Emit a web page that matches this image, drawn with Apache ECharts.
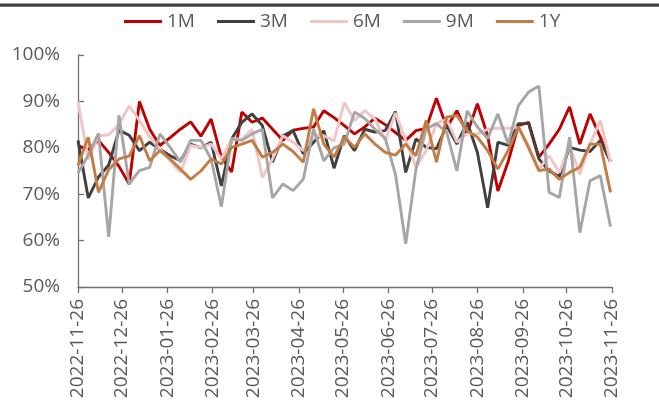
<!DOCTYPE html>
<html><head><meta charset="utf-8">
<script src="https://cdn.jsdelivr.net/npm/echarts@6/dist/echarts.min.js"></script>
<style>html,body{margin:0;padding:0;background:#fff}#c{width:659px;height:403px}</style>
</head><body><div id="c"></div>
<script>
const seriesNames = ['1M', '3M', '6M', '9M', '1Y'];
const seriesColors = ['#C00000', '#404040', '#F2C4C4', '#A6A6A6', '#C27C45'];
const axisStart = '2022-11-26';
const axisEnd = '2023-11-26';
const dates = [
  '2022-11-26','2022-12-03','2022-12-10','2022-12-17','2022-12-24','2022-12-31',
  '2023-01-07','2023-01-14','2023-01-21','2023-01-28','2023-02-04','2023-02-11',
  '2023-02-18','2023-02-25','2023-03-04','2023-03-11','2023-03-18','2023-03-25',
  '2023-04-01','2023-04-08','2023-04-15','2023-04-22','2023-04-29','2023-05-06',
  '2023-05-13','2023-05-20','2023-05-27','2023-06-03','2023-06-10','2023-06-17',
  '2023-06-24','2023-07-01','2023-07-08','2023-07-15','2023-07-22','2023-07-29',
  '2023-08-05','2023-08-12','2023-08-19','2023-08-26','2023-09-02','2023-09-09',
  '2023-09-16','2023-09-23','2023-09-30','2023-10-07','2023-10-14','2023-10-21',
  '2023-10-28','2023-11-04','2023-11-11','2023-11-18','2023-11-25'
];
const m1 = [80.5,79.6,81.6,79,76,72.2,90,84,80.5,82.2,84,85.6,82.5,86.2,78,74.8,87.7,85.5,86.4,84,81.6,83.8,84.2,84.5,88,86.5,84.8,83,84.5,86.4,85,83.3,81.6,83.7,84.2,90.7,84.4,88,83,89.5,82.6,70.7,77,84.8,85.5,78,80.8,84,88.8,80.8,87.3,82.3,77];
const m3 = [81.6,69.2,73.7,76.3,83.8,82.7,79.4,81.2,79.7,78.3,77.2,80.8,80,81.2,71.8,81.9,85.5,87.3,84.8,76.9,82.6,83.7,78.7,81.2,83.7,75.6,82.6,79.4,84,83.4,83.7,87.8,74.7,81.9,80.1,79.8,84.8,80.8,85.5,79,67.1,81.2,80.5,85.2,85.2,77.6,75,73.8,80.1,79.5,79.2,81.6,77];
const m6 = [90,77.5,82.6,82.8,85,89,85.9,82.3,79.7,77.2,74.7,80.5,80.1,80.8,77.6,81.9,81.9,84,73.6,77.6,82.6,81.2,79.4,82.6,82.6,81.5,89.7,85.9,88,86.2,81.6,87.5,81.6,75.8,79.4,85.2,86.2,81.2,83,83,84,84.2,84.2,84.4,80.5,75.4,78.3,74.7,80.5,74.3,80.8,85.9,76.9];
const m9 = [74.5,78.4,83.1,60.8,87,72.2,75.1,75.8,83,80.1,76.9,81.6,81.6,77.6,67.3,81.9,81.6,83,84,69.2,72.2,70.8,73.2,84.1,77.2,80,80.8,87.7,86.3,84,82,74.3,59.3,75.4,84.1,85.2,83.4,75,88,84.5,82,87.3,80.8,89.1,92,93.3,70.4,69.3,82.3,61.7,72.9,74,63];
const y1 = [76.2,82.3,70.4,75.3,77.6,78.2,82.6,77.2,79.4,77.6,75.4,73.2,75,77.6,76.5,80.1,80.8,81.6,78,79,80.8,79.2,76.9,88.4,80.8,78,82.3,80.1,83,80.8,79,78.4,80.8,78.3,85.9,76.9,86.6,87,83.7,82.3,79.4,75.4,79.4,84.5,80,75.1,75.4,73.2,74.7,75.8,80.8,80.8,70.4];
const allValues = [m1, m3, m6, m9, y1];

// daily category list for the date axis
function dayList(a, b) {
  const out = [];
  let t = Date.parse(a + 'T00:00:00Z');
  const end = Date.parse(b + 'T00:00:00Z');
  while (t <= end) { out.push(new Date(t).toISOString().slice(0, 10)); t += 86400000; }
  return out;
}
const days = dayList(axisStart, axisEnd);
const isTickDay = (idx, val) => val.slice(8) === '26';

const FONT = '"Open Sans", "Noto Sans", sans-serif';
const chart = echarts.init(document.getElementById('c'), null, {renderer: 'canvas'});
chart.setOption({
  animation: false,
  backgroundColor: '#ffffff',
  graphic: [{type: 'rect', shape: {x: 0, y: 3.5, width: 659, height: 3.3}, style: {fill: '#404040'}, silent: true}],
  legend: {
    data: seriesNames,
    left: 124, top: 12, padding: 0,
    icon: 'rect', itemWidth: 38, itemHeight: 3, itemGap: 22,
    textStyle: {fontFamily: FONT, fontSize: 19, color: '#595959'}
  },
  grid: {left: 78, right: 47, top: 55, bottom: 116, containLabel: false, outerBoundsMode: 'none'},
  xAxis: {
    type: 'category', data: days, boundaryGap: false,
    axisLine: {lineStyle: {color: '#707070', width: 1.3}},
    axisTick: {show: true, interval: isTickDay, length: 6, lineStyle: {color: '#707070', width: 1.3}},
    axisLabel: {interval: isTickDay, rotate: 90, margin: 12, fontFamily: FONT, fontSize: 19, color: '#595959'},
    splitLine: {show: false}
  },
  yAxis: {
    type: 'value', min: 50, max: 100, interval: 10,
    axisLine: {show: true, lineStyle: {color: '#707070', width: 1.3}},
    axisTick: {show: true, inside: true, length: 6, lineStyle: {color: '#707070', width: 1.3}},
    axisLabel: {formatter: '{value}%', margin: 18, fontFamily: FONT, fontSize: 19, color: '#595959'},
    splitLine: {show: false}
  },
  series: seriesNames.map((n, i) => ({
    name: n, type: 'line', symbol: 'none', smooth: false,
    color: seriesColors[i],
    lineStyle: {color: seriesColors[i], width: 2.9},
    data: dates.map((d, j) => [d, allValues[i][j]])
  }))
});
</script></body></html>
